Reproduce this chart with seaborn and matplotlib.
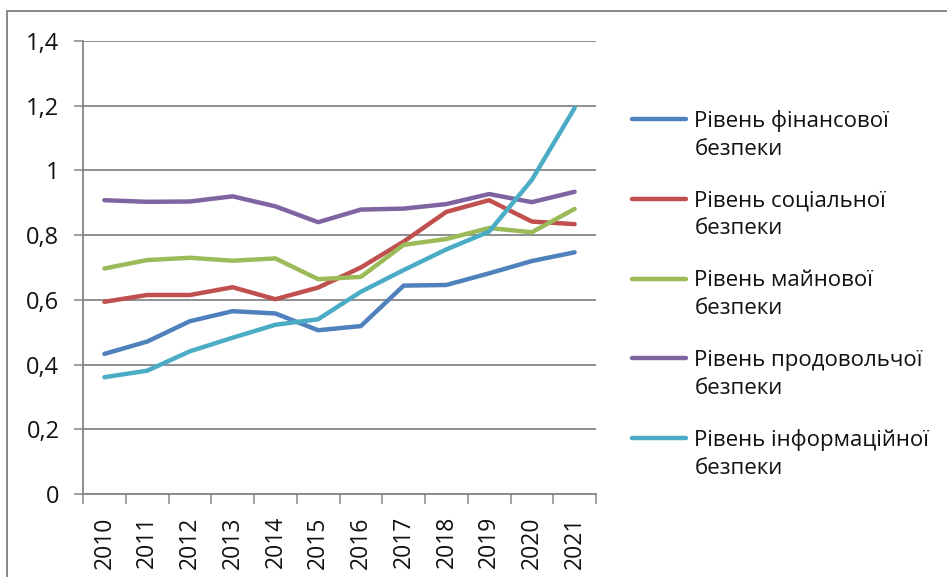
import numpy as np
import pandas as pd
import matplotlib
matplotlib.use("Agg")
import matplotlib.pyplot as plt
import seaborn as sns
from matplotlib.legend_handler import HandlerLine2D
from matplotlib.lines import Line2D
from matplotlib.patches import Rectangle

# ---- data ----
years = [str(y) for y in range(2010, 2022)]
financial = [0.433, 0.471, 0.534, 0.565, 0.558, 0.506, 0.519, 0.644, 0.646, 0.682, 0.720, 0.747]
social = [0.594, 0.615, 0.615, 0.639, 0.602, 0.638, 0.700, 0.780, 0.872, 0.908, 0.842, 0.834]
property_ = [0.697, 0.723, 0.730, 0.721, 0.728, 0.664, 0.671, 0.770, 0.788, 0.822, 0.809, 0.881]
food = [0.908, 0.903, 0.904, 0.920, 0.889, 0.840, 0.879, 0.882, 0.896, 0.927, 0.902, 0.934]
info = [0.361, 0.381, 0.441, 0.483, 0.523, 0.540, 0.625, 0.692, 0.756, 0.811, 0.971, 1.193]
series_names = ["Рівень фінансової\nбезпеки", "Рівень соціальної\nбезпеки",
                "Рівень майнової\nбезпеки", "Рівень продовольчої\nбезпеки",
                "Рівень інформаційної\nбезпеки"]
series_values = [financial, social, property_, food, info]
colors = ["#4F81BD", "#C0504D", "#9BBB59", "#8064A2", "#4BACC6"]
y_ticks = [0, 0.2, 0.4, 0.6, 0.8, 1.0, 1.2, 1.4]
y_labels = ["0", "0,2", "0,4", "0,6", "0,8", "1", "1,2", "1,4"]

rows = []
for name, vals in zip(series_names, series_values):
    for i, (yr, v) in enumerate(zip(years, vals)):
        rows.append({"idx": i, "year": yr, "value": v, "series": name})
df = pd.DataFrame(rows)

sns.set_style("white")
plt.rcParams["font.family"] = ["Open Sans", "DejaVu Sans"]

W, H = 947, 577
fig = plt.figure(figsize=(W / 100, H / 100), dpi=100)
ax = fig.add_axes([83 / W, 1 - 494 / H, (596 - 83) / W, (494 - 41) / H])

grey = "#868686"
sns.lineplot(data=df, x="idx", y="value", hue="series", hue_order=series_names,
             palette=colors, linewidth=3.2, ax=ax, legend=False,
             solid_capstyle="round", solid_joinstyle="round")

ax.set_xlim(-0.5, len(years) - 0.5)
ax.set_ylim(0, 1.4)
ax.set_xlabel("")
ax.set_ylabel("")

# y axis
ax.set_yticks(y_ticks)
ax.set_yticklabels(y_labels, fontsize=17, color="#111111")
ax.yaxis.grid(True, color=grey, linewidth=1.3)
ax.xaxis.grid(False)
ax.tick_params(axis="y", which="major", direction="out", length=6.5, width=1.1,
               color=grey, pad=10.5, left=True)

# x axis: boundary ticks (major) + centered labels (minor)
ax.set_xticks(np.arange(-0.5, len(years), 1.0))
ax.set_xticklabels([])
ax.set_xticks(np.arange(len(years)), minor=True)
ax.set_xticklabels(years, minor=True, rotation=90, fontsize=16.5, color="#111111")
ax.tick_params(axis="x", which="major", direction="out", length=7, width=1.1,
               color=grey, bottom=True)
ax.tick_params(axis="x", which="minor", length=0, pad=16)

for s in ["top", "right"]:
    ax.spines[s].set_visible(False)
for s in ["left", "bottom"]:
    ax.spines[s].set_color(grey)
    ax.spines[s].set_linewidth(1.3)
ax.set_axisbelow(True)


class HandlerTop(HandlerLine2D):
    def create_artists(self, legend, orig_handle, xdescent, ydescent, width,
                       height, fontsize, trans):
        arts = super().create_artists(legend, orig_handle, xdescent, ydescent,
                                      width, height, fontsize, trans)
        for a in arts:
            if isinstance(a, Line2D):
                yd = np.asarray(a.get_ydata(), dtype=float)
                a.set_ydata(yd + 0.72 * fontsize)
        return arts


handles = [Line2D([0], [0], color=c, linewidth=3.2, solid_capstyle="round")
           for c in colors]
leg = fig.legend(handles, series_names, loc="upper left",
                 bbox_to_anchor=(632 / W, 1 - 110 / H), frameon=False,
                 fontsize=16, handlelength=2.45, handletextpad=0.36,
                 labelspacing=1.38, borderaxespad=0, borderpad=0,
                 handler_map={Line2D: HandlerTop()})
for t in leg.get_texts():
    t.set_linespacing(1.43)
    t.set_color("#111111")

# outer chart border (top and left visible)
fig.add_artist(Rectangle((7 / W, -0.2), 1.5, (H - 11) / H + 0.2,
                         transform=fig.transFigure, fill=False,
                         edgecolor="#7f7f7f", linewidth=1.3))

fig.savefig("out.png", dpi=100)
